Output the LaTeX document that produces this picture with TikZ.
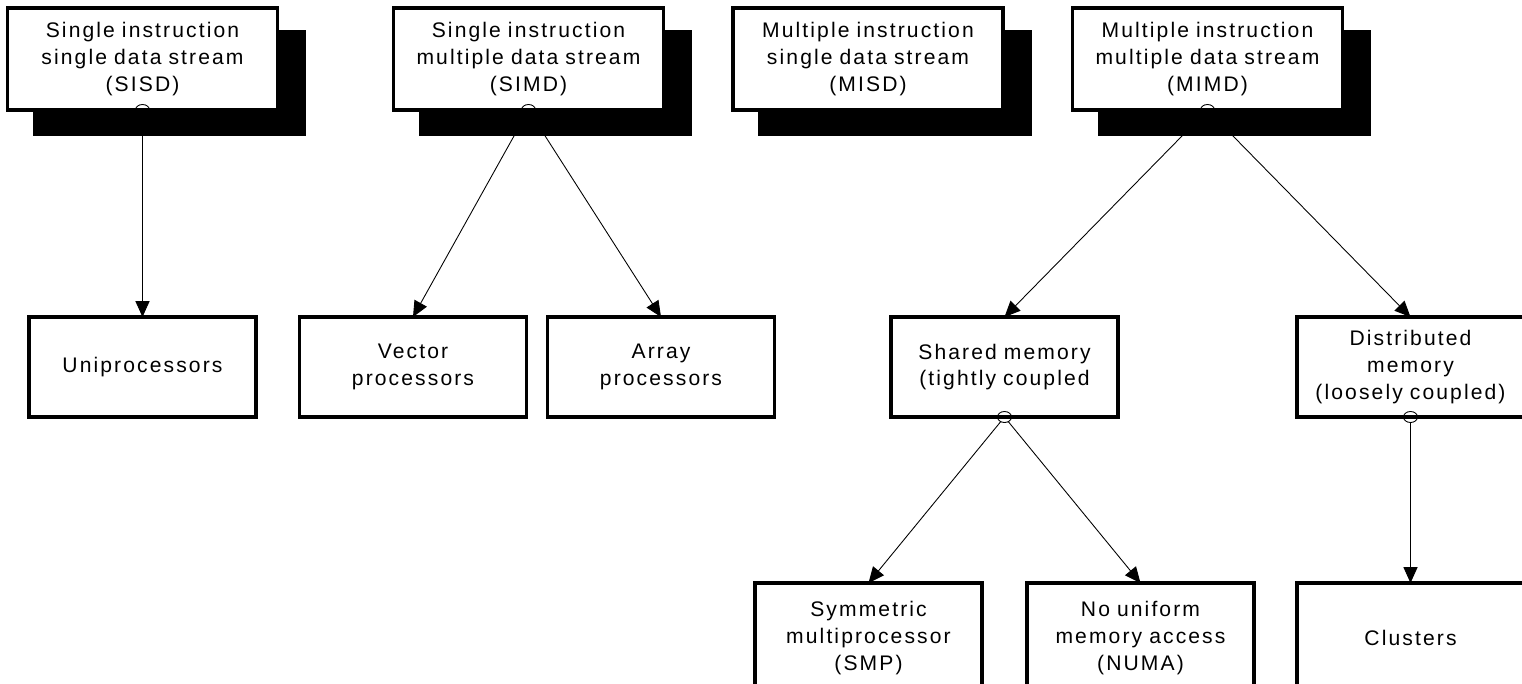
\documentclass[tikz,border=0pt]{standalone}
\usepackage{fontspec}
\setmainfont{Liberation Sans}[LetterSpace=10]
\usepackage{tikz}
\usetikzlibrary{shapes,arrows,positioning,shapes.geometric,arrows.meta,shadows}
\tikzstyle{block} = [rectangle, draw, fill=white, line width=2pt, text width=5cm, align=center,
    minimum width=5.4cm, minimum height=2.04cm, outer sep=0pt, font=\fontsize{12}{15.3}\selectfont,
    drop shadow={shadow xshift=0.54cm, shadow yshift=-0.48cm, opacity=1, fill=black, draw=black, line width=2pt, rounded corners=2pt}]
\tikzstyle{smallblock} = [rectangle, draw, fill=white, line width=2pt, text width=4.3cm, align=center,
    minimum width=4.5cm, minimum height=2cm, outer sep=0pt, font=\fontsize{12}{15.3}\selectfont]
\tikzstyle{line} = [draw, line width=0.5pt, -{Triangle[length=9pt,width=8pt]}]
\tikzstyle{port} = [ellipse, draw, line width=0.5pt, minimum width=0.28cm, minimum height=0.22cm, inner sep=0pt]

\begin{document}
\begin{tikzpicture}[auto, node distance=6.16cm]
    \useasboundingbox (-2.85,1.18) rectangle (27.59,-12.5);
    \clip (-2.85,1.18) rectangle (27.59,-12.5);

    % SISD
    \node [block] (sisd) {Single instruction\\single data stream\\(SISD)};

    % SIMD
    \node [block, right of=sisd, node distance=7.72cm] (simd) {Single instruction\\multiple data stream\\(SIMD)};

    % MISD
    \node [block, right of=simd, node distance=6.79cm] (misd) {Multiple instruction\\single data stream\\(MISD)};

    % MIMD
    \node [block, right of=misd, node distance=6.79cm] (mimd) {Multiple instruction\\multiple data stream\\(MIMD)};

    % Uniprocessors
    \node [smallblock, below of=sisd] (uni) {Uniprocessors};

    % Vector processors
    \node [smallblock, below of=simd, xshift=-2.31cm] (vector) {Vector\\processors};

    % Array processors
    \node [smallblock, below of=simd, xshift=2.65cm] (array) {Array\\processors};

    % Shared memory
    \node [smallblock, below of=mimd, xshift=-4.06cm] (shared) {Shared memory\\(tightly coupled};

    % Distributed memory
    \node [smallblock, below of=mimd, xshift=4.06cm] (distributed) {Distributed\\memory\\(loosely coupled)};

    % SMP
    \node [smallblock, below of=shared, node distance=5.42cm, xshift=-2.72cm, minimum height=2.2cm] (smp) {Symmetric\\multiprocessor\\(SMP)};

    % NUMA
    \node [smallblock, below of=shared, node distance=5.42cm, xshift=2.72cm, minimum height=2.2cm] (numa) {No uniform\\memory access\\(NUMA)};

    % Clusters
    \node [smallblock, below of=distributed, node distance=5.42cm, minimum height=2.2cm] (clusters) {Clusters};

    % Ports
    \node [port] (sisdport) at (sisd.south) {};
    \node [port] (simdport) at (simd.south) {};
    \node [port] (mimdport) at (mimd.south) {};
    \node [port] (sharedport) at (shared.south) {};
    \node [port] (distributedport) at (distributed.south) {};

    % Arrows
    \path [line] (sisdport) -- (uni.north);
    \path [line] (simdport) -- (vector.north);
    \path [line] (simdport) -- (array.north);
    \path [line] (mimdport) -- (shared.north);
    \path [line] (mimdport) -- (distributed.north);
    \path [line] (sharedport) -- (smp.north);
    \path [line] (sharedport) -- (numa.north);
    \path [line] (distributedport) -- (clusters.north);

\end{tikzpicture}
\end{document}
